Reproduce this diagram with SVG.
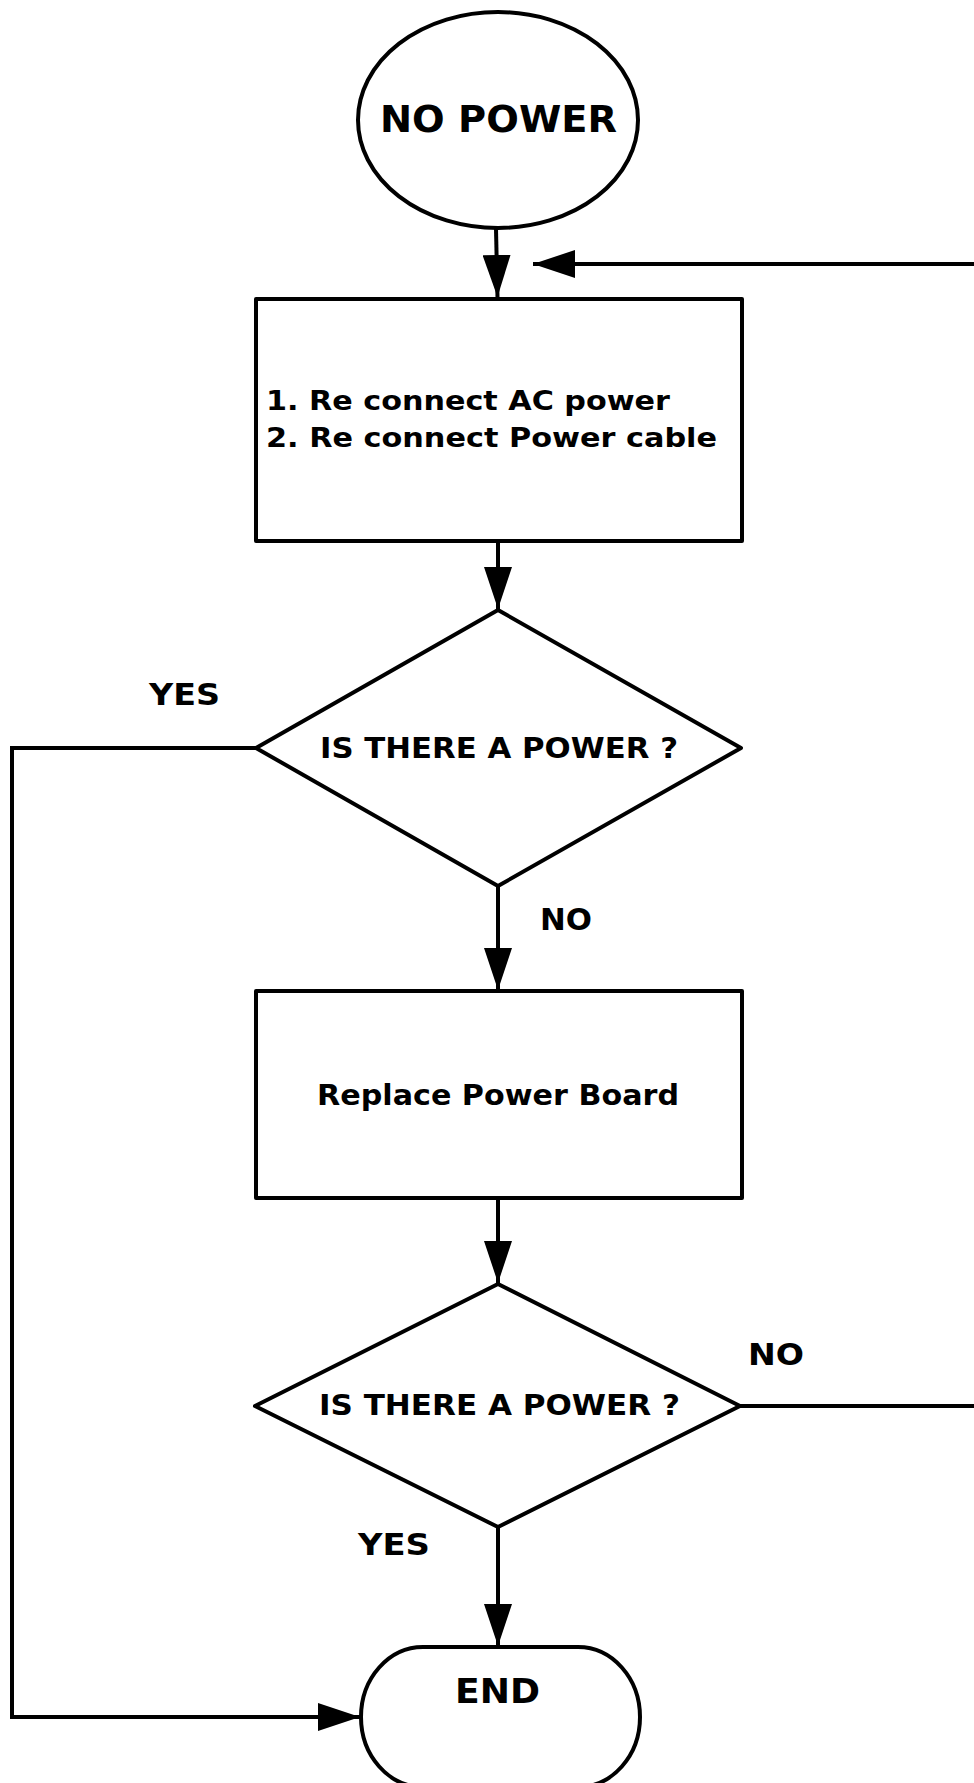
<svg xmlns="http://www.w3.org/2000/svg" width="974" height="1783" viewBox="0 0 974 1783">
<style>
.s{fill:#fff;stroke:#000;stroke-width:4;stroke-linejoin:round}
.c{fill:none;stroke:#000;stroke-width:4}
text{font-family:"DejaVu Sans","Verdana",sans-serif;font-weight:bold;fill:#000}
</style>
<defs>
<marker id="ah" markerUnits="userSpaceOnUse" viewBox="0 0 42 28" refX="42" refY="14" markerWidth="42" markerHeight="28" orient="auto">
<path d="M0,0 L42,14 L0,28 z" fill="#000"/>
</marker>
</defs>
<rect width="974" height="1783" fill="#fff"/>
<g id="connectors">
<line class="c" x1="496" y1="229" x2="497.5" y2="297" marker-end="url(#ah)"/>
<line class="c" x1="976" y1="264" x2="533" y2="264" marker-end="url(#ah)"/>
<line class="c" x1="498" y1="541" x2="498" y2="609" marker-end="url(#ah)"/>
<line class="c" x1="498" y1="886" x2="498" y2="990" marker-end="url(#ah)"/>
<line class="c" x1="498" y1="1198" x2="498" y2="1283" marker-end="url(#ah)"/>
<line class="c" x1="498" y1="1527" x2="498" y2="1646" marker-end="url(#ah)"/>
<polyline class="c" points="256,748 12,748 12,1717 360,1717" marker-end="url(#ah)"/>
<line class="c" x1="740" y1="1406" x2="976" y2="1406"/>
<text x="149" y="705" font-size="30" textLength="71" lengthAdjust="spacingAndGlyphs">YES</text>
<text x="540" y="930" font-size="30" textLength="52" lengthAdjust="spacingAndGlyphs">NO</text>
<text x="748" y="1365" font-size="30" textLength="56" lengthAdjust="spacingAndGlyphs">NO</text>
<text x="358" y="1555" font-size="30" textLength="72" lengthAdjust="spacingAndGlyphs">YES</text>
</g>
<g id="start">
<ellipse class="s" cx="498" cy="120" rx="140" ry="108"/>
<text x="380" y="132" font-size="37" textLength="237" lengthAdjust="spacingAndGlyphs">NO POWER</text>
</g>
<g id="reconnect">
<rect class="s" x="256" y="299" width="486" height="242"/>
<text x="266" y="410" font-size="27" textLength="404" lengthAdjust="spacingAndGlyphs">1. Re connect AC power</text>
<text x="266" y="447" font-size="27" textLength="451" lengthAdjust="spacingAndGlyphs">2. Re connect Power cable</text>
</g>
<g id="decision1">
<polygon class="s" points="498,610 741,748 498,886 256,748"/>
<text x="320" y="758" font-size="28" textLength="358" lengthAdjust="spacingAndGlyphs">IS THERE A POWER ?</text>
</g>
<g id="replace">
<rect class="s" x="256" y="991" width="486" height="207"/>
<text x="317" y="1105" font-size="28" textLength="362" lengthAdjust="spacingAndGlyphs">Replace Power Board</text>
</g>
<g id="decision2">
<polygon class="s" points="498,1284 740,1406 498,1527 255,1406"/>
<text x="319" y="1415" font-size="28" textLength="361" lengthAdjust="spacingAndGlyphs">IS THERE A POWER ?</text>
</g>
<g id="end">
<rect class="s" x="361" y="1647" width="279" height="140" rx="62" ry="70"/>
<text x="455" y="1703" font-size="34" textLength="85" lengthAdjust="spacingAndGlyphs">END</text>
</g>
</svg>
